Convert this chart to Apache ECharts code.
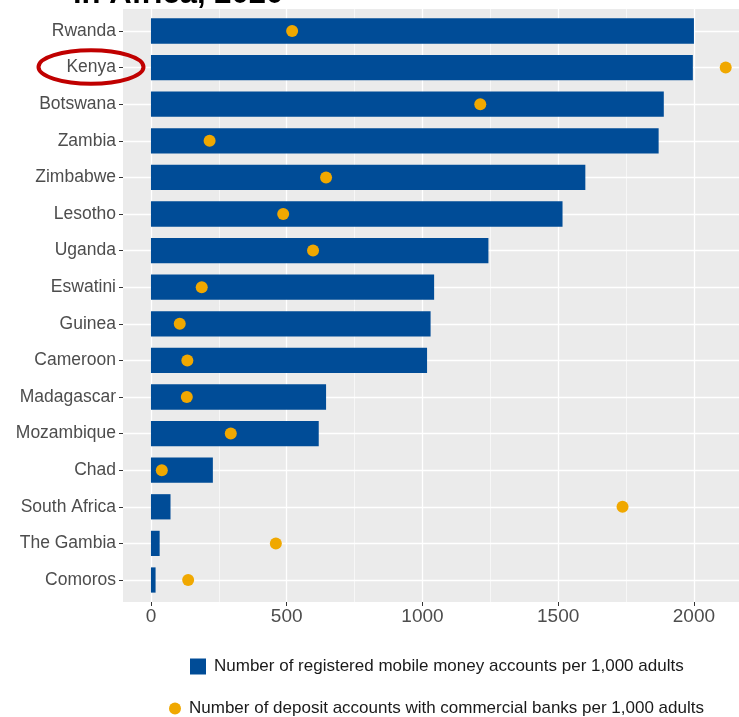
<!DOCTYPE html>
<html>
<head>
<meta charset="utf-8">
<script src="https://cdn.jsdelivr.net/npm/echarts@6/dist/echarts.min.js"></script>
<style>
  html, body { margin: 0; padding: 0; background: #ffffff; }
  #chart { width: 739px; height: 717px; }
</style>
</head>
<body>
<div id="chart"></div>
<script>
// Countries, top to bottom
const countries = ['Rwanda', 'Kenya', 'Botswana', 'Zambia', 'Zimbabwe', 'Lesotho', 'Uganda', 'Eswatini',
  'Guinea', 'Cameroon', 'Madagascar', 'Mozambique', 'Chad', 'South Africa', 'The Gambia', 'Comoros'];

// Registered mobile money accounts per 1,000 adults
const mobileMoney = [2000, 1996, 1889, 1870, 1600, 1516, 1243, 1043, 1030, 1017, 645, 618, 228, 72, 32, 17];

// Deposit accounts with commercial banks per 1,000 adults
const bankDeposits = [520, 2117, 1213, 216, 645, 487, 597, 187, 106, 134, 132, 294, 40, 1737, 460, 137];

// Value axis ticks and grid lines
const majorTicks = [0, 500, 1000, 1500, 2000];
const minorTicks = [250, 750, 1250, 1750];
const xMin = -103;
const xMax = 2166;

const mobileName = 'Number of registered mobile money accounts per 1,000 adults';
const bankName = 'Number of deposit accounts with commercial banks per 1,000 adults';

const FONT = "'Liberation Sans', Arial, sans-serif";
const PANEL_LEFT = 123;

const chart = echarts.init(document.getElementById('chart'), null, { renderer: 'canvas' });

const gridLine = (w) => ({ color: '#ffffff', width: w, type: 'solid' });

chart.setOption({
  animation: false,
  backgroundColor: '#ffffff',
  textStyle: { fontFamily: FONT },
  graphic: [
    {
      type: 'text',
      left: 73,
      top: -21,
      z: 10,
      style: {
        text: 'in Africa, 2020',
        font: 'bold 31px ' + FONT,
        fill: '#000000'
      }
    },
    {
      type: 'ellipse',
      shape: { cx: 91, cy: 67, rx: 52.5, ry: 16.7 },
      z: 10,
      style: { fill: 'none', stroke: '#C00000', lineWidth: 4 }
    }
  ],
  grid: [
    // data area: one band per country
    { left: PANEL_LEFT, right: 0, top: 12.7, height: 585.6, containLabel: false },
    // panel background with vertical grid lines and value axis
    { left: PANEL_LEFT, right: 0, top: 9, height: 593, show: true, backgroundColor: '#EBEBEB', borderWidth: 0, z: -1 }
  ],
  legend: [
    {
      data: [mobileName],
      left: 190, top: 658, padding: 0,
      icon: 'rect', itemWidth: 16, itemHeight: 16,
      textStyle: { fontSize: 17, color: '#1A1A1A', fontFamily: FONT, padding: [0, 0, 0, 3] },
      selectedMode: false
    },
    {
      data: [bankName],
      left: 169, top: 700, padding: 0,
      icon: 'circle', itemWidth: 12, itemHeight: 12,
      textStyle: { fontSize: 17, color: '#1A1A1A', fontFamily: FONT, padding: [0, 0, 0, 3] },
      selectedMode: false
    }
  ],
  xAxis: [
    {
      gridIndex: 0, type: 'value', min: xMin, max: xMax,
      show: false, splitLine: { show: false }
    },
    {
      gridIndex: 1, type: 'value', min: xMin, max: xMax,
      axisLine: { show: false, onZero: false },
      splitLine: { show: false },
      axisTick: { show: true, customValues: majorTicks, length: 4, lineStyle: { color: '#333333', width: 1 } },
      axisLabel: {
        customValues: majorTicks, fontSize: 19, color: '#4D4D4D', margin: 5, fontFamily: FONT,
        formatter: (v) => String(v)
      }
    }
  ],
  yAxis: [
    {
      gridIndex: 0, type: 'category', data: countries, inverse: true,
      position: 'left',
      axisLine: { show: false, onZero: false },
      axisTick: { show: true, alignWithLabel: true, length: 4, lineStyle: { color: '#333333', width: 1 } },
      axisLabel: { fontSize: 17.5, color: '#4D4D4D', margin: 7, fontFamily: FONT },
      splitLine: { show: false }
    },
    {
      gridIndex: 1, type: 'value', min: 0, max: 1, show: false, splitLine: { show: false }
    }
  ],
  series: [
    {
      // vertical grid lines across the panel
      type: 'scatter', xAxisIndex: 1, yAxisIndex: 1, data: [], z: 0, silent: true,
      markLine: {
        z: 0, silent: true, symbol: ['none', 'none'], label: { show: false },
        data: [
          ...minorTicks.map(v => ({ xAxis: v, lineStyle: gridLine(0.6) })),
          ...majorTicks.map(v => ({ xAxis: v, lineStyle: gridLine(1.3) }))
        ]
      }
    },
    {
      // horizontal grid lines through each country
      type: 'scatter', xAxisIndex: 0, yAxisIndex: 0, data: [], z: 0, silent: true,
      markLine: {
        z: 0, silent: true, symbol: ['none', 'none'], label: { show: false },
        data: countries.map(c => ({ yAxis: c, lineStyle: gridLine(1.3) }))
      }
    },
    {
      name: mobileName,
      type: 'bar', xAxisIndex: 0, yAxisIndex: 0,
      data: mobileMoney,
      barWidth: '69%',
      itemStyle: { color: '#004C97' },
      z: 2
    },
    {
      name: bankName,
      type: 'scatter', xAxisIndex: 0, yAxisIndex: 0,
      data: bankDeposits.map((v, i) => [v, countries[i]]),
      symbol: 'circle', symbolSize: 12,
      itemStyle: { color: '#F0A800', opacity: 1 },
      z: 3
    }
  ]
});
</script>
</body>
</html>
